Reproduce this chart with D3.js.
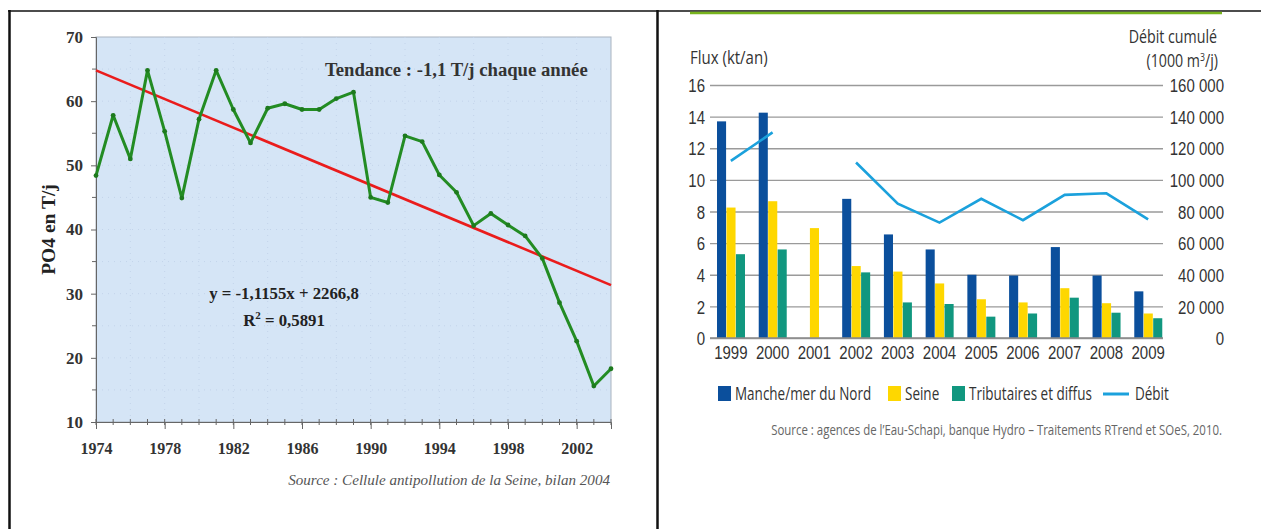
<!DOCTYPE html>
<html>
<head>
<meta charset="utf-8">
<script src="https://cdn.jsdelivr.net/npm/d3@7"></script>
<style>
  body { margin: 0; background: #fff; }
  .serif { font-family: "Liberation Serif", "Times New Roman", serif; }
  .narrow { font-family: "Open Sans", "Roboto", sans-serif; }
</style>
</head>
<body>
<div id="chart"></div>
<script>
// ---- left chart data (PO4, T/j) ----
const po4Years = d3.range(1974, 2005);
const po4Values = [48.4, 57.8, 51.0, 64.8, 55.3, 44.9, 57.2, 64.8, 58.7, 53.5,
                   58.9, 59.6, 58.7, 58.7, 60.4, 61.4, 45.0, 44.2, 54.6, 53.7,
                   48.5, 45.8, 40.6, 42.5, 40.7, 39.0, 35.5, 28.6, 22.6, 15.6, 18.3];
const trendCoef = [-1.1155, 2266.8];   // y = a*x + b
const po4Ticks = [10, 20, 30, 40, 50, 60, 70];
const yearTicks = [1974, 1978, 1982, 1986, 1990, 1994, 1998, 2002];

// ---- right chart data ----
const years = ['1999','2000','2001','2002','2003','2004','2005','2006','2007','2008','2009'];
const manche = [13.7, 14.25, null, 8.8, 6.55, 5.6, 4.0, 3.95, 5.75, 3.95, 2.95];
const seine = [8.25, 8.65, 6.95, 4.55, 4.2, 3.45, 2.45, 2.25, 3.15, 2.2, 1.55];
const tributaires = [5.3, 5.6, null, 4.15, 2.25, 2.15, 1.35, 1.55, 2.55, 1.6, 1.25];
const debit = [112000, 130000, null, 111000, 85000, 73000, 88000, 74500, 90500, 91500, 75000];
const fluxTicks = [0, 2, 4, 6, 8, 10, 12, 14, 16];
const debitTicks = [0, 20000, 40000, 60000, 80000, 100000, 120000, 140000, 160000];
const seriesNames = ['Manche/mer du Nord', 'Seine', 'Tributaires et diffus'];
const seriesColors = ['#0b4f9c', '#fed700', '#11977f'];
const debitColor = '#1ba1dc';

const W = 1261, H = 529;
const K = 0.79; // horizontal squeeze to mimic the condensed font of the right chart

const svg = d3.select('#chart').append('svg')
  .attr('width', W).attr('height', H);

function condense(sel, k) {
  sel.each(function() {
    const t = d3.select(this);
    const x = +t.attr('x') || 0, y = +t.attr('y') || 0;
    t.attr('transform', `translate(${x},${y}) scale(${k},1) translate(${-x},${-y})`);
  });
}

// frame
svg.append('line').attr('x1', 8).attr('x2', W).attr('y1', 11).attr('y2', 11)
  .attr('stroke', '#111').attr('stroke-width', 1.5);
svg.append('line').attr('x1', 9.5).attr('x2', 9.5).attr('y1', 10).attr('y2', H)
  .attr('stroke', '#111').attr('stroke-width', 2.5);
svg.append('line').attr('x1', 657.5).attr('x2', 657.5).attr('y1', 10).attr('y2', H)
  .attr('stroke', '#111').attr('stroke-width', 2.5);
svg.append('line').attr('x1', 690).attr('x2', 1222).attr('y1', 13).attr('y2', 13)
  .attr('stroke', '#78b41e').attr('stroke-width', 2.5);

// ================= LEFT CHART =================
const L = {left: 96, right: 611, top: 37, bottom: 422};
const xL = d3.scaleLinear().domain([1974, 2004]).range([L.left, L.right]);
const yL = d3.scaleLinear().domain([10, 70]).range([L.bottom, L.top]);

const left = svg.append('g');
left.append('rect')
  .attr('x', L.left).attr('y', L.top)
  .attr('width', L.right - L.left).attr('height', L.bottom - L.top)
  .attr('fill', '#d5e5f6').attr('stroke', '#a9b3bf').attr('stroke-width', 1);

// faint dotted grid
left.append('g').selectAll('line.hg')
  .data(d3.range(15, 70, 5)).enter().append('line')
  .attr('x1', L.left).attr('x2', L.right)
  .attr('y1', d => yL(d)).attr('y2', d => yL(d))
  .attr('stroke', '#c3d4ea').attr('stroke-dasharray', '1,5');
left.append('g').selectAll('line.vg')
  .data(d3.range(1976, 2004, 2)).enter().append('line')
  .attr('x1', d => xL(d)).attr('x2', d => xL(d))
  .attr('y1', L.top).attr('y2', L.bottom)
  .attr('stroke', '#c3d4ea').attr('stroke-dasharray', '1,5');

// y axis
const yAxL = left.append('g')
  .attr('transform', `translate(${L.left},0)`)
  .call(d3.axisLeft(yL).tickValues(po4Ticks).tickSize(5).tickPadding(8).tickFormat(d3.format('d')));
yAxL.append('g').selectAll('line')
  .data(d3.range(15, 70, 10)).enter().append('line')
  .attr('x1', -4).attr('x2', 0).attr('y1', d => yL(d)).attr('y2', d => yL(d))
  .attr('stroke', '#666');

// x axis
const xAxL = left.append('g')
  .attr('transform', `translate(0,${L.bottom})`)
  .call(d3.axisBottom(xL).tickValues(yearTicks).tickSize(7).tickPadding(14).tickFormat(d3.format('d')));
xAxL.append('g').selectAll('line')
  .data(po4Years).enter().append('line')
  .attr('x1', d => xL(d)).attr('x2', d => xL(d)).attr('y1', -3).attr('y2', 3)
  .attr('stroke', '#666');

[yAxL, xAxL].forEach(ax => {
  ax.select('.domain').attr('stroke', '#666');
  ax.selectAll('.tick line').attr('stroke', '#666');
  ax.selectAll('text')
    .attr('class', 'serif')
    .style('font-weight', 'bold')
    .attr('fill', '#333');
});
yAxL.selectAll('.tick text').style('font-size', '17px');
xAxL.selectAll('.tick text').style('font-size', '16px');

// trend line
left.append('line')
  .attr('x1', xL(1974)).attr('y1', yL(trendCoef[0] * 1974 + trendCoef[1]))
  .attr('x2', xL(2004)).attr('y2', yL(trendCoef[0] * 2004 + trendCoef[1]))
  .attr('stroke', '#ea1c1c').attr('stroke-width', 2.6);

// data line
const po4 = po4Years.map((y, i) => ({year: y, v: po4Values[i]}));
left.append('path').datum(po4)
  .attr('fill', 'none').attr('stroke', '#238c23').attr('stroke-width', 3)
  .attr('stroke-linejoin', 'round')
  .attr('d', d3.line().x(d => xL(d.year)).y(d => yL(d.v)));
left.selectAll('circle.pt').data(po4).enter().append('circle')
  .attr('cx', d => xL(d.year)).attr('cy', d => yL(d.v)).attr('r', 2.4)
  .attr('fill', '#1d7a1d');

// annotations
left.append('text').attr('class', 'serif')
  .attr('x', 325).attr('y', 76)
  .style('font-size', '18.7px').style('font-weight', 'bold').attr('fill', '#333')
  .text('Tendance : -1,1 T/j chaque année');
left.append('text').attr('class', 'serif')
  .attr('x', 284).attr('y', 299).attr('text-anchor', 'middle')
  .style('font-size', '16.8px').style('font-weight', 'bold').attr('fill', '#222')
  .text('y = -1,1155x + 2266,8');
const r2 = left.append('text').attr('class', 'serif')
  .attr('x', 284).attr('y', 326).attr('text-anchor', 'middle')
  .style('font-size', '16.8px').style('font-weight', 'bold').attr('fill', '#222');
r2.append('tspan').text('R');
r2.append('tspan').attr('dy', -7).style('font-size', '11px').text('2');
r2.append('tspan').attr('dy', 7).text(' = 0,5891');

left.append('text').attr('class', 'serif')
  .attr('transform', `translate(55,${(L.top + L.bottom) / 2}) rotate(-90)`)
  .attr('text-anchor', 'middle')
  .style('font-size', '19.5px').style('font-weight', 'bold').attr('fill', '#222')
  .text('PO4 en T/j');

left.append('text').attr('class', 'serif')
  .attr('x', 610).attr('y', 485).attr('text-anchor', 'end')
  .style('font-size', '15.1px').style('font-style', 'italic').attr('fill', '#555')
  .text('Source : Cellule antipollution de la Seine, bilan 2004');

// ================= RIGHT CHART =================
const R = {left: 710, right: 1163, top: 85, bottom: 338};
const x0 = d3.scaleBand().domain(years).range([R.left, 1169]);
const x1 = d3.scaleBand().domain(seriesNames).range([7, 35]).paddingInner(0.04);
const yR = d3.scaleLinear().domain([0, 16]).range([R.bottom, R.top]);
const yD = d3.scaleLinear().domain([0, 160000]).range([R.bottom, R.top]);
const frLocale = d3.formatLocale({decimal: ',', thousands: ' ', grouping: [3], currency: ['', ' €']});

const right = svg.append('g').attr('class', 'narrow');

const gridAx = right.append('g')
  .attr('transform', `translate(${R.left},0)`)
  .call(d3.axisLeft(yR).tickValues(fluxTicks).tickSize(-(R.right - R.left)).tickPadding(5).tickFormat(d3.format('d')));
gridAx.select('.domain').remove();
gridAx.selectAll('.tick line').attr('stroke', '#9a9a9a').attr('stroke-width', 1.3);
gridAx.selectAll('.tick text').attr('fill', '#333').style('font-size', '19px')
  .attr('dy', '0.35em');

const debAx = right.append('g')
  .attr('transform', `translate(${R.right},0)`)
  .call(d3.axisRight(yD).tickValues(debitTicks).tickSize(0).tickPadding(61).tickFormat(frLocale.format(',d')));
debAx.select('.domain').remove();
debAx.selectAll('.tick text').attr('fill', '#333').style('font-size', '19px')
  .attr('text-anchor', 'end').attr('dy', '0.35em');

const catAx = right.append('g')
  .attr('transform', `translate(0,${R.bottom})`)
  .call(d3.axisBottom(x0).tickSize(0).tickPadding(8));
catAx.select('.domain').remove();
catAx.selectAll('.tick text').attr('fill', '#333').style('font-size', '19px');

[gridAx, debAx, catAx].forEach(ax => condense(ax.selectAll('.tick text'), K));

// bars
const seriesData = [manche, seine, tributaires];
seriesData.forEach((vals, si) => {
  right.append('g').selectAll('rect')
    .data(years.map((y, i) => ({year: y, v: vals[i]})).filter(d => d.v != null))
    .enter().append('rect')
    .attr('x', d => x0(d.year) + x1(seriesNames[si]))
    .attr('width', x1.bandwidth())
    .attr('y', d => yR(d.v))
    .attr('height', d => yR(0) - yR(d.v))
    .attr('fill', seriesColors[si]);
});

right.append('line')
  .attr('x1', R.left).attr('x2', R.right).attr('y1', R.bottom).attr('y2', R.bottom)
  .attr('stroke', '#8a8a8a').attr('stroke-width', 1.3);

// debit line
right.append('path')
  .datum(years.map((y, i) => ({year: y, v: debit[i]})))
  .attr('fill', 'none').attr('stroke', debitColor).attr('stroke-width', 2.6)
  .attr('d', d3.line().defined(d => d.v != null)
    .x(d => x0(d.year) + x0.bandwidth() / 2).y(d => yD(d.v)));

// axis titles
right.append('text').attr('class', 'cz').attr('x', 690).attr('y', 64)
  .style('font-size', '19px').attr('fill', '#333').text('Flux (kt/an)');
right.append('text').attr('class', 'cz').attr('x', 1217).attr('y', 43).attr('text-anchor', 'end')
  .style('font-size', '18px').attr('fill', '#333').text('Débit cumulé');
const unit = right.append('text').attr('class', 'cz').attr('x', 1218).attr('y', 67).attr('text-anchor', 'end')
  .style('font-size', '18px').attr('fill', '#333');
unit.append('tspan').text('(1000 m');
unit.append('tspan').attr('dy', -6).style('font-size', '11px').text('3');
unit.append('tspan').attr('dy', 6).text('/j)');

// legend
const legendItems = [
  {name: seriesNames[0], color: seriesColors[0], x: 718, type: 'box'},
  {name: seriesNames[1], color: seriesColors[1], x: 888, type: 'box'},
  {name: seriesNames[2], color: seriesColors[2], x: 952, type: 'box'},
  {name: 'Débit', color: debitColor, x: 1103, type: 'line'}
];
const leg = right.append('g').attr('transform', 'translate(0,393)');
legendItems.forEach(it => {
  if (it.type === 'box') {
    leg.append('rect').attr('x', it.x).attr('y', -7).attr('width', 13).attr('height', 15)
      .attr('fill', it.color);
    leg.append('text').attr('class', 'lz').attr('x', it.x + 17).attr('y', 7)
      .style('font-size', '19px').attr('fill', '#333').text(it.name);
  } else {
    leg.append('line').attr('x1', it.x).attr('x2', it.x + 26).attr('y1', 1).attr('y2', 1)
      .attr('stroke', it.color).attr('stroke-width', 3);
    leg.append('text').attr('class', 'lz').attr('x', it.x + 32).attr('y', 7)
      .style('font-size', '19px').attr('fill', '#333').text(it.name);
  }
});

right.append('text').attr('class', 'cz').attr('x', 1222).attr('y', 435).attr('text-anchor', 'end')
  .style('font-size', '14.5px').attr('fill', '#666')
  .text('Source : agences de l’Eau-Schapi, banque Hydro – Traitements RTrend et SOeS, 2010.');

condense(right.selectAll('text.cz'), K);
condense(leg.selectAll('text.lz'), 0.71);
</script>
</body>
</html>
